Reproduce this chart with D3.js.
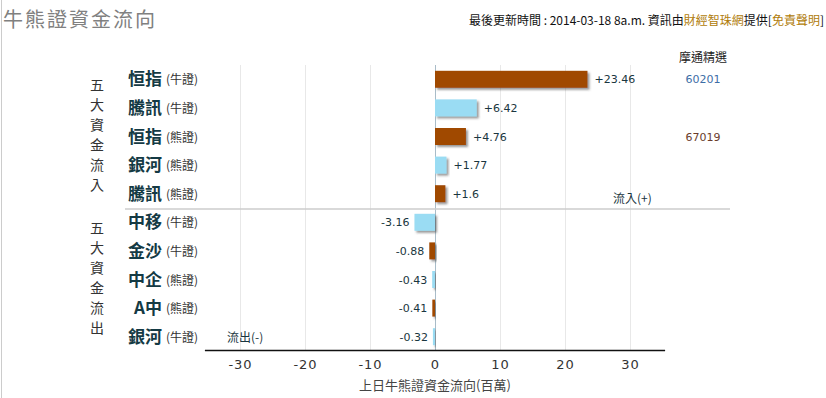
<!DOCTYPE html>
<html>
<head>
<meta charset="utf-8">
<script src="https://cdn.jsdelivr.net/npm/d3@7"></script>
<style>
  body { margin: 0; background: #fff; }
  svg { display: block; }
  text { font-family: "DejaVu Sans", Verdana, sans-serif; }
  .cjk { font-family: "Noto Sans CJK TC", "Noto Sans", sans-serif; }
</style>
</head>
<body>
<div id="chart"></div>
<script>
// rows: top five inflow, then top five outflow
var names = ["恒指", "騰訊", "恒指", "銀河", "騰訊", "中移", "金沙", "中企", "A中", "銀河"];
var types = ["牛證", "牛證", "熊證", "熊證", "熊證", "牛證", "牛證", "熊證", "熊證", "牛證"];
var values = [23.46, 6.42, 4.76, 1.77, 1.6, -3.16, -0.88, -0.43, -0.41, -0.32];
var picks = ["60201", "", "67019", "", "", "", "", "", "", ""];
var xTicks = [-30, -20, -10, 0, 10, 20, 30];
var barColors = ["#a04a05", "#9adcf3"];

var width = 826, height = 398;

var svg = d3.select("#chart").append("svg")
  .attr("width", width)
  .attr("height", height);

var defs = svg.append("defs");
var shadow = defs.append("filter").attr("id", "shadow")
  .attr("x", "-20%").attr("y", "-30%").attr("width", "150%").attr("height", "180%");
shadow.append("feDropShadow")
  .attr("dx", 2).attr("dy", 2).attr("stdDeviation", 1)
  .attr("flood-color", "#444").attr("flood-opacity", 0.55);

// left page border
svg.append("line")
  .attr("x1", 1.5).attr("x2", 1.5).attr("y1", 0).attr("y2", height)
  .attr("stroke", "#ccc").attr("stroke-width", 1);

// title
svg.append("text").attr("class", "cjk")
  .attr("x", 3).attr("y", 27)
  .attr("font-size", 20).attr("letter-spacing", 2)
  .attr("fill", "#808080")
  .text("牛熊證資金流向");

// update info, right aligned
var info = svg.append("text").attr("class", "cjk")
  .attr("x", 824).attr("y", 25)
  .attr("font-size", 12).attr("text-anchor", "end")
  .attr("fill", "#111");
info.append("tspan").text("最後更新時間 : 2014-03-18 8a.m.   資訊由");
info.append("tspan").attr("fill", "#b07c0a").text("財經智珠網");
info.append("tspan").text("提供[");
info.append("tspan").attr("fill", "#b07c0a").text("免責聲明");
info.append("tspan").text("]");

var x = d3.scaleLinear().domain([-30, 30]).range([240, 630]);
var y = d3.scaleBand().domain(d3.range(values.length)).range([65, 351]);

var plotTop = 65, plotBottom = 350;

// grid
svg.append("g").selectAll("line")
  .data(xTicks)
  .join("line")
  .attr("x1", function (d) { return x(d) + 0.5; })
  .attr("x2", function (d) { return x(d) + 0.5; })
  .attr("y1", plotTop).attr("y2", plotBottom)
  .attr("stroke", function (d) { return d === 0 ? "#a9bcc8" : "#e8e8e8"; })
  .attr("stroke-width", 1);

// separator between inflow and outflow
svg.append("line")
  .attr("x1", 125).attr("x2", 730)
  .attr("y1", 209).attr("y2", 209)
  .attr("stroke", "#ccc").attr("stroke-width", 1.5);

// bottom axis
var xAxis = svg.append("g")
  .attr("transform", "translate(0," + plotBottom + ")")
  .call(d3.axisBottom(x).tickValues(xTicks).tickSize(0).tickPadding(10)
    .tickFormat(function (d) { return String(d); }));
xAxis.select(".domain").remove();
xAxis.append("line")
  .attr("x1", x(-35.4)).attr("x2", x(35.4))
  .attr("y1", 0.5).attr("y2", 0.5)
  .attr("stroke", "#111").attr("stroke-width", 1.5);
xAxis.selectAll(".tick text")
  .attr("font-size", 13)
  .attr("letter-spacing", 1)
  .attr("font-family", "DejaVu Sans, Verdana, sans-serif")
  .attr("fill", "#333");

svg.append("text").attr("class", "cjk")
  .attr("x", x(0)).attr("y", 390)
  .attr("text-anchor", "middle")
  .attr("font-size", 13).attr("fill", "#444")
  .text("上日牛熊證資金流向(百萬)");

// bars
svg.append("g").selectAll("rect")
  .data(values)
  .join("rect")
  .attr("x", function (d) { return x(Math.min(0, d)); })
  .attr("y", function (d, i) { return y(i) + y.bandwidth() / 2 - 8.5; })
  .attr("width", function (d) { return Math.abs(x(d) - x(0)); })
  .attr("height", 17)
  .attr("fill", function (d, i) { return barColors[i % 2]; })
  .attr("filter", "url(#shadow)");

// value labels
svg.append("g").selectAll("text")
  .data(values)
  .join("text")
  .attr("x", function (d) { return d >= 0 ? x(d) + 7 : x(d) - 5; })
  .attr("y", function (d, i) { return y(i) + y.bandwidth() / 2 + 4; })
  .attr("text-anchor", function (d) { return d >= 0 ? "start" : "end"; })
  .attr("font-size", 11)
  .attr("fill", "#1a3640")
  .text(function (d) { return d >= 0 ? "+" + d : String(d); });

// row names
var rowLabels = svg.append("g").selectAll("g")
  .data(names)
  .join("g")
  .attr("transform", function (d, i) { return "translate(0," + (y(i) + y.bandwidth() / 2) + ")"; });
rowLabels.append("text").attr("class", "cjk")
  .attr("x", 162).attr("y", 6)
  .attr("text-anchor", "end")
  .attr("font-size", 17).attr("font-weight", "bold")
  .attr("fill", "#143a44")
  .text(function (d) { return d; });
rowLabels.append("text").attr("class", "cjk")
  .attr("x", 166).attr("y", 5)
  .attr("font-size", 12).attr("fill", "#333")
  .text(function (d, i) { return "(" + types[i] + ")"; });

// vertical group captions
function vertical(str, cx, cy) {
  var chars = str.split("");
  svg.append("g").selectAll("text")
    .data(chars)
    .join("text").attr("class", "cjk")
    .attr("x", cx)
    .attr("y", function (d, i) { return cy + (i - (chars.length - 1) / 2) * 20 + 5; })
    .attr("text-anchor", "middle")
    .attr("font-size", 14).attr("fill", "#333")
    .text(function (d) { return d; });
}
vertical("五大資金流入", 97, 135);
vertical("五大資金流出", 97, 278);

svg.append("text").attr("class", "cjk")
  .attr("x", 613).attr("y", 203)
  .attr("font-size", 12).attr("fill", "#1a3640")
  .text("流入(+)");
svg.append("text").attr("class", "cjk")
  .attr("x", 227).attr("y", 342)
  .attr("font-size", 12).attr("fill", "#1a3640")
  .text("流出(-)");

// 摩通精選 column
svg.append("text").attr("class", "cjk")
  .attr("x", 703).attr("y", 62)
  .attr("text-anchor", "middle")
  .attr("font-size", 12).attr("fill", "#222")
  .text("摩通精選");
svg.append("g").selectAll("text")
  .data(picks)
  .join("text")
  .attr("x", 703)
  .attr("y", function (d, i) { return y(i) + y.bandwidth() / 2 + 4; })
  .attr("text-anchor", "middle")
  .attr("font-size", 11)
  .attr("fill", function (d, i) { return i === 0 ? "#3c6ea6" : "#6a3c2c"; })
  .text(function (d) { return d; });
</script>
</body>
</html>
